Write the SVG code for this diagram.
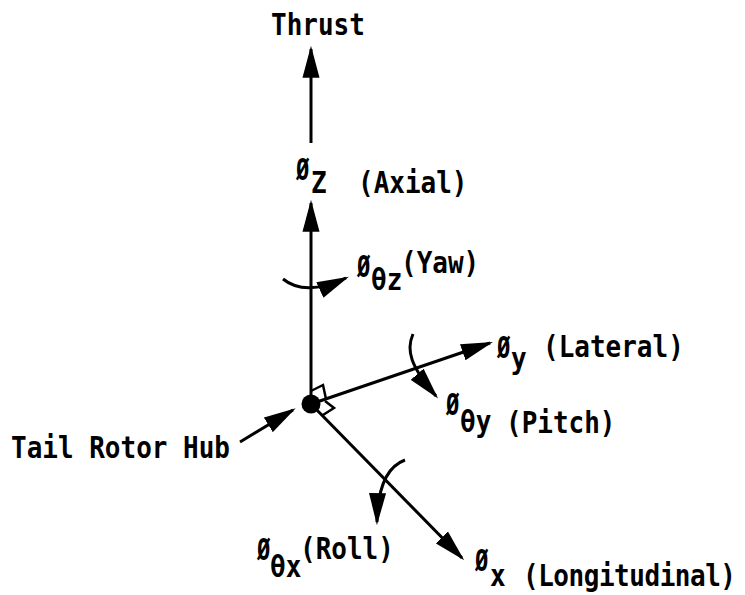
<svg xmlns="http://www.w3.org/2000/svg" width="745" height="595" viewBox="0 0 745 595">
  <style>
    .t { font-family: "DejaVu Sans Mono", "Liberation Mono", monospace; font-size: 26px; font-weight: bold; fill: #000; }
    .ln { fill: none; stroke: #000; stroke-width: 3; marker-end: url(#ah); }
    .ra { fill: none; stroke: #000; stroke-width: 2.5; stroke-linejoin: miter; }
  </style>
  <defs>
    <marker id="ah" markerUnits="userSpaceOnUse" markerWidth="32" markerHeight="18" viewBox="0 0 30 16" refX="27" refY="8" orient="auto">
      <path d="M0,0 L30,8 L0,16 Z" fill="#000"/>
    </marker>
  </defs>
  <rect width="745" height="595" fill="#fff"/>

  <g id="connectors">
    <path class="ln" d="M311,143 L311,49"/>
    <path class="ln" d="M311,404 L311,203"/>
    <path class="ln" d="M311,404 L490,343"/>
    <path class="ln" d="M311,404 L462,558"/>
    <path class="ln" d="M240,442 L293,410"/>
    <path class="ln" d="M283,279 Q305,297 346,278"/>
    <path class="ln" d="M413,334 C406,350 410,366 436,396"/>
    <path class="ln" d="M405,460 Q378,470 377,522"/>
  </g>

  <g id="hub">
    <circle cx="311" cy="404" r="9.5" fill="#000"/>
    <polyline class="ra" points="311,391 323,385 326,399"/>
    <polyline class="ra" points="325,401 334,408 323,415"/>
  </g>

  <g id="thrust">
    <text class="t" transform="translate(271 35) scale(1 1.15)">Thrust</text>
  </g>

  <g id="axial">
    <text class="t" transform="translate(296 180) scale(0.85 1.15)">Ø</text>
    <text class="t" transform="translate(311 193) scale(1 1.15)">Z</text>
    <text class="t" transform="translate(358 193) scale(1 1.15)">(Axial)</text>
  </g>

  <g id="yaw">
    <text class="t" transform="translate(357 277) scale(0.85 1.15)">Ø</text>
    <text class="t" transform="translate(371 290) scale(1 1.15)">θz</text>
    <text class="t" transform="translate(401 273) scale(1 1.15)">(Yaw)</text>
  </g>

  <g id="lateral">
    <text class="t" transform="translate(497 358) scale(0.85 1.15)">Ø</text>
    <text class="t" transform="translate(511 369) scale(1 1.15)">y</text>
    <text class="t" transform="translate(543 357) scale(1 1.15)">(Lateral)</text>
  </g>

  <g id="pitch">
    <text class="t" transform="translate(446 415) scale(0.85 1.15)">Ø</text>
    <text class="t" transform="translate(460 432) scale(1 1.15)">θy</text>
    <text class="t" transform="translate(506 433) scale(1 1.15)">(Pitch)</text>
  </g>

  <g id="tail-rotor-hub">
    <text class="t" transform="translate(11 458) scale(1 1.15)">Tail Rotor Hub</text>
  </g>

  <g id="roll">
    <text class="t" transform="translate(257 560) scale(0.85 1.15)">Ø</text>
    <text class="t" transform="translate(270 577) scale(1 1.15)">θx</text>
    <text class="t" transform="translate(300 559) scale(1 1.15)">(Roll)</text>
  </g>

  <g id="longitudinal">
    <text class="t" transform="translate(475 571) scale(0.85 1.15)">Ø</text>
    <text class="t" transform="translate(490 586) scale(1 1.15)">x</text>
    <text class="t" transform="translate(523 586) scale(1 1.15)" textLength="213" lengthAdjust="spacing">(Longitudinal)</text>
  </g>
</svg>
